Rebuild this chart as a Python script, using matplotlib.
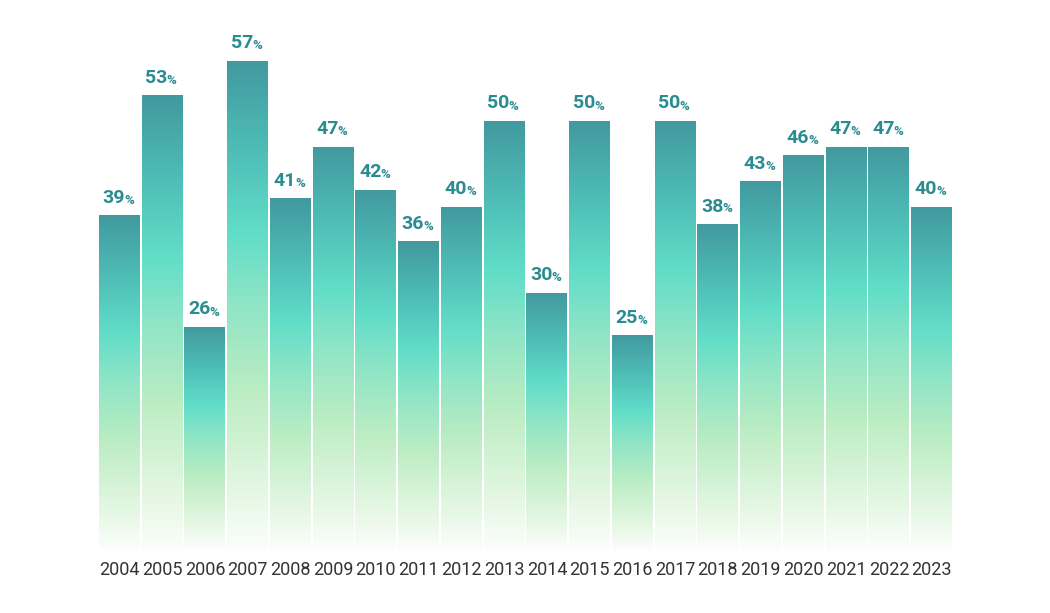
import numpy as np
import matplotlib.pyplot as plt
from matplotlib.colors import LinearSegmentedColormap
from matplotlib.transforms import offset_copy

years = [str(y) for y in range(2004, 2024)]
values = [39, 53, 26, 57, 41, 47, 42, 36, 40, 50, 30, 50, 25, 50, 38, 43, 46, 47, 47, 40]

plt.rcParams['font.family'] = ['Roboto', 'DejaVu Sans']

# gradient inside each bar, bottom (0) -> top (1)
cmap = LinearSegmentedColormap.from_list(
    'bar_grad',
    [(0.0, '#fcfefc'), (0.1, '#e8f8e6'), (0.32, '#bcedc3'),
     (0.5, '#8fe5c6'), (0.65, '#61ddc8'), (0.82, '#4ebdb6'), (1.0, '#42999f')])
grad = np.linspace(0, 1, 256).reshape(-1, 1)

fig = plt.figure(figsize=(10.5, 6.13), dpi=100)
ax = fig.add_axes([98 / 1050, (613 - 550) / 613, 855 / 1050, 515 / 613])

x = np.arange(len(values))
bars = ax.bar(x, values, width=0.955, color='none', edgecolor='none')
for b in bars:
    x0 = b.get_x()
    im = ax.imshow(grad, extent=[x0, x0 + b.get_width(), 0, b.get_height()],
                   origin='lower', aspect='auto', cmap=cmap, zorder=2)
    im.set_clip_path(b)

teal = '#2a8c91'
for xi, v in zip(x, values):
    t1 = offset_copy(ax.transData, fig=fig, x=4, y=6, units='points')
    t2 = offset_copy(ax.transData, fig=fig, x=3.3, y=6, units='points')
    ax.text(xi, v, str(v), transform=t1, ha='right', va='bottom',
            fontsize=14, fontweight='bold', color=teal)
    ax.text(xi, v, '%', transform=t2, ha='left', va='bottom',
            fontsize=9.5, fontweight='bold', color=teal)

ax.set_xlim(-0.5, len(values) - 0.5)
ax.set_ylim(0, 60)
ax.set_xticks(x)
ax.set_xticklabels(years, fontsize=13, color='#333333')
ax.tick_params(axis='x', length=0, pad=8)
ax.set_yticks([])
for s in ax.spines.values():
    s.set_visible(False)

fig.savefig('out.png', dpi=100)
